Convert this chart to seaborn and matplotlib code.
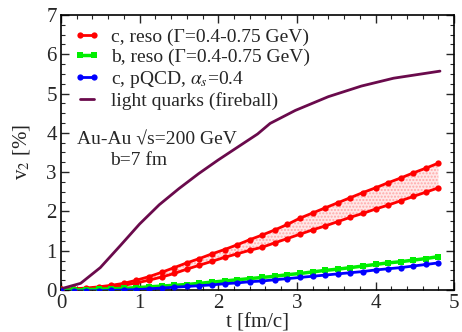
import numpy as np
import pandas as pd
import matplotlib
matplotlib.use("Agg")
import matplotlib.pyplot as plt
import seaborn as sns
from matplotlib.ticker import MultipleLocator

# ---- data ----
t_grid = [0.00, 0.16, 0.32, 0.48, 0.64, 0.80, 0.96, 1.12, 1.28, 1.44, 1.60,
          1.76, 1.92, 2.08, 2.24, 2.40, 2.56, 2.72, 2.88, 3.04, 3.20, 3.36,
          3.52, 3.68, 3.84, 4.00, 4.16, 4.32, 4.48, 4.64, 4.80]
c_reso_upper = [0.02, 0.03, 0.05, 0.08, 0.12, 0.17, 0.25, 0.34, 0.45, 0.57, 0.69,
                0.80, 0.92, 1.03, 1.15, 1.28, 1.40, 1.53, 1.67, 1.83, 1.96, 2.09,
                2.22, 2.35, 2.48, 2.60, 2.73, 2.85, 2.98, 3.10, 3.23]
c_reso_lower = [0.02, 0.02, 0.03, 0.05, 0.08, 0.12, 0.18, 0.25, 0.33, 0.42, 0.53,
                0.63, 0.73, 0.83, 0.92, 1.01, 1.09, 1.20, 1.31, 1.42, 1.53, 1.63,
                1.74, 1.85, 1.95, 2.06, 2.16, 2.27, 2.38, 2.49, 2.60]
b_reso = [0.00, 0.00, 0.01, 0.02, 0.03, 0.04, 0.06, 0.08, 0.10, 0.12, 0.14,
          0.17, 0.20, 0.23, 0.26, 0.29, 0.32, 0.35, 0.39, 0.42, 0.46, 0.50,
          0.53, 0.57, 0.61, 0.65, 0.69, 0.72, 0.76, 0.80, 0.85]
c_pqcd = [-0.03, -0.03, -0.02, -0.02, -0.01, 0.00, 0.01, 0.03, 0.05, 0.07, 0.09,
          0.11, 0.13, 0.16, 0.18, 0.21, 0.23, 0.26, 0.29, 0.32, 0.35, 0.38,
          0.41, 0.44, 0.47, 0.51, 0.54, 0.57, 0.61, 0.65, 0.69]
t_light = [0.00, 0.25, 0.50, 0.75, 1.00, 1.25, 1.50, 1.75, 2.00, 2.25, 2.50,
           2.66, 2.98, 3.40, 3.82, 4.23, 4.82]
v_light = [0.03, 0.17, 0.57, 1.12, 1.68, 2.17, 2.58, 2.96, 3.31, 3.64, 3.97,
           4.24, 4.57, 4.92, 5.19, 5.39, 5.57]

labels = ["c, reso (\u0393=0.4-0.75 GeV)",
          "b, reso (\u0393=0.4-0.75 GeV)",
          "c, pQCD, $\\alpha_s$=0.4",
          "light quarks (fireball)"]
x_ticks = [0, 1, 2, 3, 4, 5]
y_ticks = [0, 1, 2, 3, 4, 5, 6, 7]

sns.set_style("ticks")
plt.rcParams['font.family'] = ['Liberation Serif', 'DejaVu Serif']
plt.rcParams['mathtext.fontset'] = 'stix'

fig = plt.figure(figsize=(4.62, 3.32), dpi=100)
ax = fig.add_axes([0.132, 0.1265, 0.851, 0.8285])

RED = '#ff0000'
GREEN = '#00ee00'
BLUE = '#0000ff'
MAROON = '#6a0a4c'

ax.fill_between(t_grid, c_reso_lower, c_reso_upper, facecolor='#ffe8e8',
                edgecolor='#ffa8a8', hatch='.....', linewidth=0, zorder=1)

df = pd.DataFrame({'t': t_grid, 'up': c_reso_upper, 'lo': c_reso_lower,
                   'b': b_reso, 'c': c_pqcd})
sns.lineplot(data=df, x='t', y='up', ax=ax, color=RED, lw=2, marker='o',
             markersize=4.5, markeredgewidth=0, label=labels[0], zorder=3)
sns.lineplot(data=df, x='t', y='lo', ax=ax, color=RED, lw=2, marker='o',
             markersize=4.5, markeredgewidth=0, label='_nolegend_', zorder=3)
sns.lineplot(data=df, x='t', y='b', ax=ax, color=GREEN, lw=2.5, marker='s',
             markersize=5, markeredgewidth=0, label=labels[1], zorder=3)
sns.lineplot(data=df, x='t', y='c', ax=ax, color=BLUE, lw=2, marker='o',
             markersize=4.5, markeredgewidth=0, label=labels[2], zorder=4)
dfl = pd.DataFrame({'t': t_light, 'v': v_light})
sns.lineplot(data=dfl, x='t', y='v', ax=ax, color=MAROON, lw=2,
             label=labels[3], zorder=3)

ax.set_xlim(0, 5)
ax.set_ylim(0, 7)
ax.set_xticks(x_ticks)
ax.set_yticks(y_ticks)
ax.xaxis.set_minor_locator(MultipleLocator(0.2))
ax.yaxis.set_minor_locator(MultipleLocator(0.25))
ax.tick_params(which='both', direction='in', top=True, right=True,
               labelsize=15, pad=3)
ax.tick_params(which='major', length=6, width=1)
ax.tick_params(which='minor', length=3, width=0.8)
for s in ax.spines.values():
    s.set_linewidth(1.2)
    s.set_color('black')

ax.set_xlabel('t [fm/c]', fontsize=15, labelpad=0)
ax.set_ylabel('v$_2$ [%]', fontsize=15, labelpad=10)

ax.text(0.2, 3.82, 'Au-Au \u221as=200 GeV', fontsize=14, ha='left', va='center')
ax.text(0.62, 3.3, 'b=7 fm', fontsize=14, ha='left', va='center')

leg = ax.legend(loc='upper left', frameon=False, fontsize=14, numpoints=2,
                handlelength=1.3, handletextpad=0.55, labelspacing=0.12,
                borderaxespad=0.3, bbox_to_anchor=(0.0, 1.0))

fig.savefig('out.png', dpi=100)
